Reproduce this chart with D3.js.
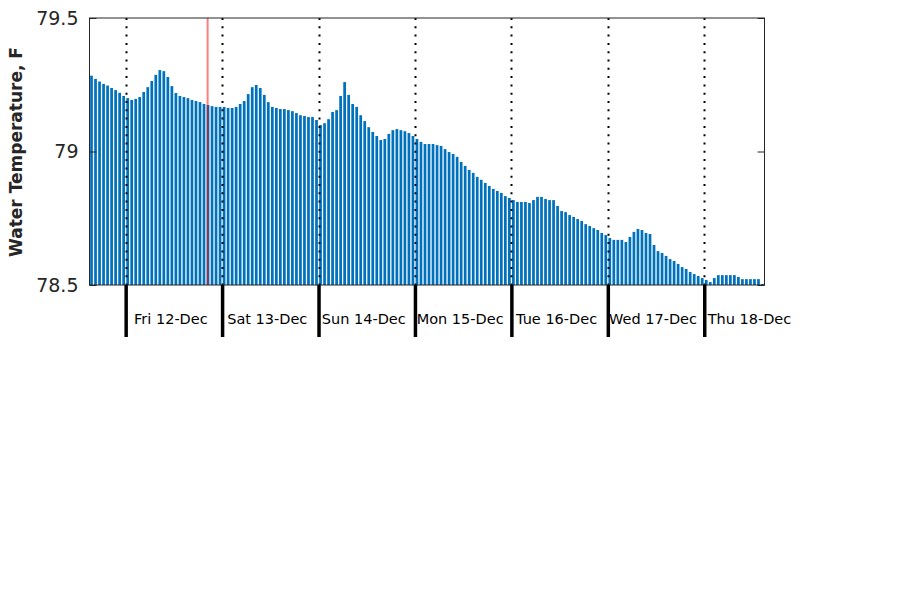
<!DOCTYPE html>
<html>
<head>
<meta charset="utf-8">
<script src="https://cdn.jsdelivr.net/npm/d3@7"></script>
<style>
  html, body { margin: 0; padding: 0; background: #fff; }
  svg { display: block; font-family: "DejaVu Sans", sans-serif; }
</style>
</head>
<body>
<svg id="chart" width="900" height="600"></svg>
<script>
// ---- data ----
const startTime = "2014-12-11T15:00:00Z";   // first hourly reading
const endTime = "2014-12-18T15:00:00Z";
const nowTime = "2014-12-12T20:24:00Z";     // red "now" marker
const temps = [
  79.284, 79.272, 79.262, 79.253, 79.247, 79.238, 79.230, 79.220, 79.208,
  79.200, 79.193, 79.197, 79.204, 79.223, 79.241, 79.264, 79.287, 79.305, 79.301,
  79.279, 79.245, 79.219, 79.208, 79.204, 79.200, 79.193, 79.189, 79.185, 79.178,
  79.174, 79.170, 79.167, 79.167,
  79.167, 79.163, 79.163, 79.167, 79.178, 79.189, 79.215, 79.241, 79.249, 79.238,
  79.212, 79.185, 79.167, 79.163, 79.159, 79.159, 79.155, 79.151, 79.144, 79.136,
  79.133, 79.129, 79.129, 79.118,
  79.099, 79.106, 79.121, 79.148, 79.155, 79.208, 79.260, 79.212, 79.178, 79.167,
  79.136, 79.114, 79.091, 79.073, 79.058, 79.043, 79.047, 79.066, 79.080, 79.084,
  79.080, 79.076, 79.069, 79.058,
  79.047, 79.036, 79.028, 79.028, 79.028, 79.024, 79.021, 79.009, 78.998, 78.991,
  78.980, 78.961, 78.946, 78.931, 78.920, 78.905, 78.894, 78.882, 78.871, 78.860,
  78.852, 78.845, 78.833, 78.826,
  78.818, 78.811, 78.811, 78.811, 78.807, 78.818, 78.830, 78.830, 78.822, 78.818,
  78.818, 78.796, 78.777, 78.773, 78.762, 78.755, 78.747, 78.740, 78.728, 78.721,
  78.713, 78.706, 78.695, 78.687,
  78.676, 78.669, 78.669, 78.669, 78.661, 78.680, 78.699, 78.710, 78.706, 78.695,
  78.691, 78.650, 78.627, 78.620, 78.609, 78.597, 78.590, 78.579, 78.567, 78.560,
  78.549, 78.541, 78.534, 78.526,
  78.519, 78.511, 78.526, 78.537, 78.537, 78.537, 78.537, 78.537, 78.530, 78.522,
  78.522, 78.522, 78.522, 78.522, 78.504
];
const dayStarts = ["2014-12-12", "2014-12-13", "2014-12-14", "2014-12-15", "2014-12-16", "2014-12-17", "2014-12-18"];
const dayLabels = ["Fri 12-Dec", "Sat 13-Dec", "Sun 14-Dec", "Mon 15-Dec", "Tue 16-Dec", "Wed 17-Dec", "Thu 18-Dec"];
const yTicks = [78.5, 79, 79.5];
const yTickLabels = ["78.5", "79", "79.5"];
const yTitle = "Water Temperature, F";

// ---- layout ----
const plotL = 89.5, plotR = 764.5, plotT = 18, plotB = 285;
const HOUR = 3600 * 1000;
const t0 = new Date(startTime);
const readings = temps.map((v, i) => ({ t: new Date(t0.getTime() + i * HOUR), v }));
const days = dayStarts.map((d, i) => ({ t: new Date(d + "T00:00:00Z"), noon: new Date(d + "T12:00:00Z"), label: dayLabels[i] }));

const svg = d3.select("#chart");
const x = d3.scaleUtc().domain([new Date(startTime), new Date(endTime)]).range([plotL, plotR]);
const y = d3.scaleLinear().domain([78.5, 79.5]).range([plotB, plotT]);

const hourPx = x(new Date(t0.getTime() + HOUR)) - x(t0);
const barW = hourPx * 0.68;

svg.append("defs").append("clipPath").attr("id", "plotclip")
  .append("rect").attr("x", plotL).attr("y", plotT).attr("width", plotR - plotL).attr("height", plotB - plotT);

// bars
svg.append("g").attr("clip-path", "url(#plotclip)")
  .selectAll("rect").data(readings).join("rect")
  .attr("x", d => x(d.t) + hourPx / 2 - barW / 2)
  .attr("width", barW)
  .attr("y", d => y(d.v))
  .attr("height", d => y(78.5) - y(d.v))
  .attr("fill", "#0072BD");

// dotted day lines
svg.append("g").selectAll("line").data(days).join("line")
  .attr("x1", d => Math.round(x(d.t)) + 0.5).attr("x2", d => Math.round(x(d.t)) + 0.5)
  .attr("y1", plotT).attr("y2", plotB)
  .attr("stroke", "#000").attr("stroke-width", 2)
  .attr("stroke-dasharray", "2,6.3");

// now marker
svg.append("line")
  .attr("x1", x(new Date(nowTime))).attr("x2", x(new Date(nowTime)))
  .attr("y1", plotT).attr("y2", plotB)
  .attr("stroke", "#ff0000").attr("stroke-opacity", 0.5).attr("stroke-width", 2);

// box
svg.append("rect")
  .attr("x", plotL).attr("y", plotT).attr("width", plotR - plotL).attr("height", plotB - plotT)
  .attr("fill", "none").attr("stroke", "#262626").attr("stroke-width", 1);

// y axes (inward ticks)
const yAxisL = svg.append("g").attr("transform", `translate(${plotL},0)`)
  .call(d3.axisLeft(y).tickValues(yTicks).tickFormat((d, i) => yTickLabels[i])
    .tickSizeInner(-7).tickSizeOuter(0).tickPadding(11));
yAxisL.select(".domain").remove();
yAxisL.selectAll(".tick line").attr("stroke", "#262626");
yAxisL.selectAll(".tick text")
  .attr("fill", "#262626").attr("font-size", 19).attr("font-family", "DejaVu Sans");

const yAxisR = svg.append("g").attr("transform", `translate(${plotR},0)`)
  .call(d3.axisRight(y).tickValues(yTicks).tickFormat("").tickSizeInner(-7).tickSizeOuter(0));
yAxisR.select(".domain").remove();
yAxisR.selectAll(".tick line").attr("stroke", "#262626");

// x axis: thick day ticks below
const xAxis = svg.append("g").attr("transform", `translate(0,${plotB})`)
  .call(d3.axisBottom(x).tickValues(days.map(d => d.t)).tickFormat("").tickSizeInner(52).tickSizeOuter(0));
xAxis.select(".domain").remove();
xAxis.selectAll(".tick line").attr("stroke", "#000").attr("stroke-width", 3.5);

// day labels centred on each day's noon
svg.append("g").selectAll("text").data(days).join("text")
  .attr("x", d => x(d.noon) - 3).attr("y", plotB + 34)
  .attr("text-anchor", "middle").attr("dominant-baseline", "central")
  .attr("fill", "#000").attr("font-size", 14.5).attr("font-family", "DejaVu Sans")
  .text(d => d.label);

// y title
svg.append("text")
  .attr("transform", `translate(22,152) rotate(-90)`)
  .attr("text-anchor", "middle")
  .attr("font-size", 17).attr("font-weight", "bold").attr("fill", "#262626")
  .attr("font-family", "DejaVu Sans")
  .text(yTitle);
</script>
</body>
</html>
